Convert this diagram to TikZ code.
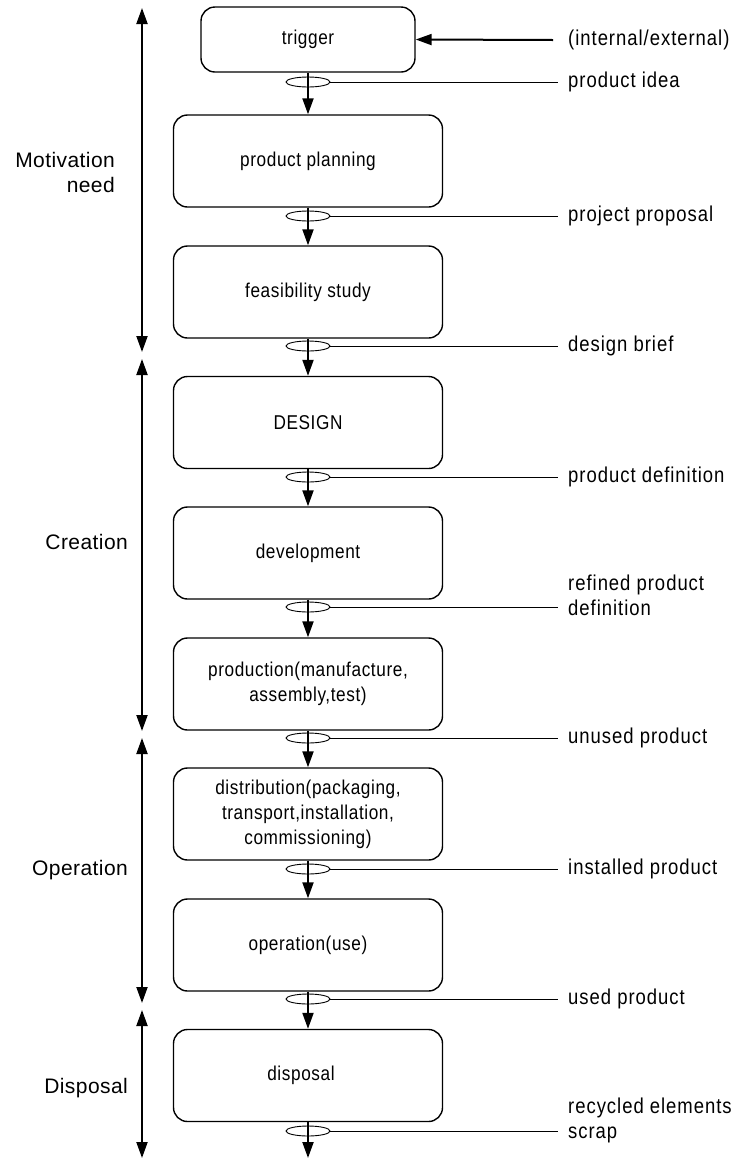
\documentclass[tikz,border=0pt]{standalone}
\usepackage{fontspec}
\setmainfont{Liberation Sans}
\newfontfamily\boxfont[FakeStretch=0.86,LetterSpace=3]{Liberation Sans}
\newfontfamily\sidefont[FakeStretch=0.86,LetterSpace=4.5]{Liberation Sans}
\newfontfamily\phasefont[LetterSpace=2]{Liberation Sans}
\usetikzlibrary{arrows.meta,shapes.geometric}
\begin{document}
\begin{tikzpicture}[x=1pt,y=-1pt,
  stage/.style={draw, line width=1.4pt, rounded corners=14pt, minimum width=269pt, minimum height=92pt, align=center, font=\boxfont\fontsize{20}{25}\selectfont, inner sep=0pt},
  flow/.style={line width=2pt, -{Triangle[length=16pt,width=11pt]}},
  phase/.style={line width=2pt, {Triangle[length=16pt,width=11pt]}-{Triangle[length=16pt,width=11pt]}},
  tag/.style={draw, line width=0.9pt, ellipse, minimum width=44pt, minimum height=10pt, inner sep=0pt},
  lead/.style={line width=0.9pt},
  outtext/.style={anchor=west, align=left, font=\sidefont\fontsize{21.5}{25}\selectfont, inner sep=0pt},
  lbl/.style={anchor=east, align=right, font=\phasefont\fontsize{21}{25}\selectfont, inner sep=0pt}]

\useasboundingbox (0,0) rectangle (741,1160);

% stages
\node[stage, minimum width=214pt, minimum height=65pt] (trig) at (308,39.5) {trigger};
\node[stage] (plan) at (308,161) {product planning};
\node[stage] (feas) at (308,292) {feasibility study};
\node[stage] (des) at (308,422.5) {DESIGN};
\node[stage] (dev) at (308,553) {development};
\node[stage] (prod) at (308,684) {production(manufacture,\\assembly,test)};
\node[stage] (dist) at (308,814) {distribution(packaging,\\transport,installation,\\commissioning)};
\node[stage] (oper) at (308,945) {operation(use)};
\node[stage] (disp) at (308,1075.5) {\raisebox{3pt}{disposal}\hspace*{14pt}};
\coordinate (endp) at (308,1158);

% flow arrows
\draw[flow] (trig) -- (plan);
\draw[flow] (plan) -- (feas);
\draw[flow] (feas) -- (des);
\draw[flow] (des) -- (dev);
\draw[flow] (dev) -- (prod);
\draw[flow] (prod) -- (dist);
\draw[flow] (dist) -- (oper);
\draw[flow] (oper) -- (disp);
\draw[flow] (disp) -- (endp);

% input
\coordinate (inp) at (553,40);
\node[outtext] (tin) at (568,40) {(internal/external)};
\draw[flow] (inp) -- (trig.east);

% output tags
\foreach \n/\y in {1/82,2/216,3/346,4/477,5/607,6/738,7/869,8/999,9/1131}{
  \node[tag] (e\n) at (308,\y) {};
  \coordinate (l\n) at (558,\y);
  \draw[lead] (e\n.east) -- (l\n);
}
\node[outtext] (t1) at (568,82) {product idea};
\node[outtext] (t2) at (568,216) {project proposal};
\node[outtext] (t3) at (568,346) {design brief};
\node[outtext] (t4) at (568,477) {product definition};
\node[outtext] (t5) at (568,595) {refined product\\definition};
\node[outtext] (t6) at (568,738) {unused product};
\node[outtext] (t7) at (568,869) {installed product};
\node[outtext] (t8) at (568,999) {used product};
\node[outtext] (t9) at (568,1120) {recycled elements\\scrap};

% phases
\coordinate (m1) at (142,8);
\coordinate (m2) at (142,352);
\coordinate (c1) at (142,359);
\coordinate (c2) at (142,731);
\coordinate (o1) at (142,738);
\coordinate (o2) at (142,1003);
\coordinate (d1) at (142,1010);
\coordinate (d2) at (142,1158);
\draw[phase] (m1) -- (m2);
\draw[phase] (c1) -- (c2);
\draw[phase] (o1) -- (o2);
\draw[phase] (d1) -- (d2);

\node[lbl] (lm) at (115,172) {Motivation\\need};
\node[lbl] (lc) at (128,542) {Creation};
\node[lbl] (lo) at (128,870) {Operation};
\node[lbl] (ld) at (128,1088) {Disposal};
\end{tikzpicture}
\end{document}
